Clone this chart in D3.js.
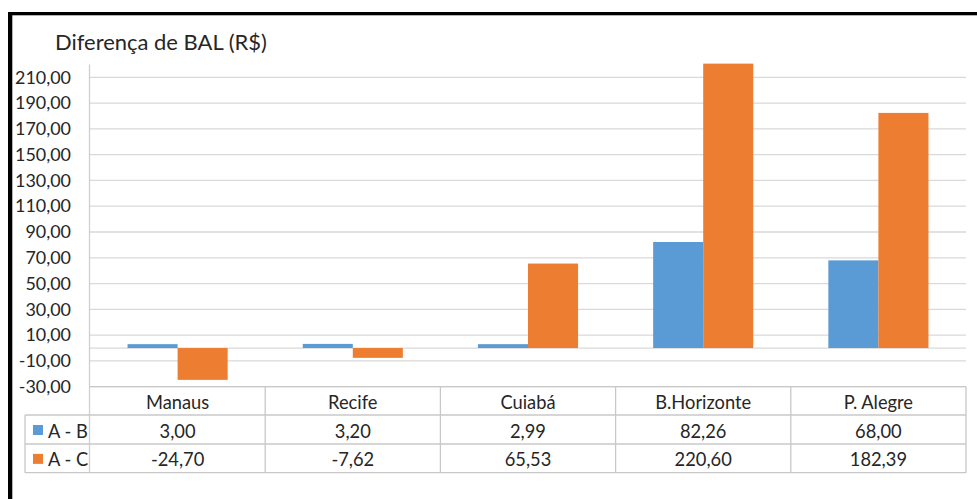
<!DOCTYPE html>
<html><head><meta charset="utf-8">
<script src="https://cdn.jsdelivr.net/npm/d3@7/dist/d3.min.js"></script>
<style>html,body{margin:0;padding:0;background:#fff;}svg{display:block;}</style>
</head><body>
<svg id="chart" width="977" height="499"></svg>
<script>
const title = "Diferença de BAL (R$)";
const categories = ["Manaus", "Recife", "Cuiabá", "B.Horizonte", "P. Alegre"];
const seriesNames = ["A - B", "A - C"];
const seriesAB = [3.00, 3.20, 2.99, 82.26, 68.00];
const seriesAC = [-24.70, -7.62, 65.53, 220.60, 182.39];
const tickValues = [210, 190, 170, 150, 130, 110, 90, 70, 50, 30, 10, -10, -30];
const seriesColors = ["#5B9BD5", "#ED7D31"];

const fmt = v => v.toFixed(2).replace(".", ",");
const svg = d3.select("#chart");
const FONT = "Lato, 'Open Sans', sans-serif";
const TXT = "#262626";

// frame (black border of the original picture)
svg.append("rect").attr("x", 8).attr("y", 12).attr("width", 969).attr("height", 3.3).attr("fill", "#000");
svg.append("rect").attr("x", 8).attr("y", 12).attr("width", 4.3).attr("height", 487).attr("fill", "#000");

const x0 = 90, x1 = 966;
const y = d3.scaleLinear().domain([-30, 220]).range([386.7, 386.7 - 250 * (309.4 / 240)]);
const xb = d3.scaleBand().domain(categories).range([x0, x1]).paddingInner(0).paddingOuter(0);
const bw = xb.bandwidth() / 3.5;
const xs = d3.scaleBand().domain(seriesNames).range([bw * 0.75, bw * 2.75]).padding(0);

// fit font-size to a target width
function fit(text, target, weight) {
  const t = svg.append("text").attr("font-family", FONT).attr("font-size", 100).attr("font-weight", weight || 400).text(text);
  const w = t.node().getComputedTextLength();
  t.remove();
  return 100 * target / w;
}
const titleSize = fit(title, 212);
const tickSize = fit("210,00", 56);
const tableSize = fit("B.Horizonte", 96);

// title
svg.append("text").attr("x", 55).attr("y", 50).attr("font-family", FONT).attr("font-size", titleSize)
  .attr("fill", TXT).text(title);

// gridlines
const grid = svg.append("g");
grid.selectAll("line").data(tickValues.concat([0])).join("line")
  .attr("x1", x0).attr("x2", x1).attr("y1", d => y(d)).attr("y2", d => y(d))
  .attr("stroke", "#D9D9D9").attr("stroke-width", 1.3);

// y axis via d3
const yAxis = d3.axisLeft(y).tickValues(tickValues).tickFormat(fmt).tickSize(0).tickPadding(19);
const ga = svg.append("g").attr("transform", `translate(${x0},0)`).call(yAxis);
ga.select(".domain").remove();
ga.selectAll("text").attr("font-family", FONT).attr("font-size", tickSize).attr("fill", TXT);
svg.append("line").attr("x1", x0 - 0.5).attr("x2", x0 - 0.5).attr("y1", y(220)).attr("y2", 472.7)
  .attr("stroke", "#D0D0D0").attr("stroke-width", 1.3);

// bars
const data = [seriesAB, seriesAC];
data.forEach((vals, si) => {
  svg.append("g").selectAll("rect").data(vals).join("rect")
    .attr("x", (d, i) => xb(categories[i]) + xs(seriesNames[si]))
    .attr("width", xs.bandwidth())
    .attr("y", d => y(Math.max(0, d)))
    .attr("height", d => Math.abs(y(d) - y(0)))
    .attr("fill", seriesColors[si]);
});

// data table
const rowY = [386.7, 415, 444, 472.7];
const tbl = svg.append("g").attr("stroke", "#C8C8C8").attr("stroke-width", 1.3);
tbl.append("line").attr("x1", x0).attr("x2", x1).attr("y1", rowY[0]).attr("y2", rowY[0]);
[1, 2, 3].forEach(r => tbl.append("line").attr("x1", 25).attr("x2", x1).attr("y1", rowY[r]).attr("y2", rowY[r]));
tbl.append("line").attr("x1", 25).attr("x2", 25).attr("y1", rowY[1]).attr("y2", rowY[3]);
categories.forEach((c, i) => {
  const xr = xb(c) + xb.bandwidth();
  tbl.append("line").attr("x1", xr).attr("x2", xr).attr("y1", rowY[0]).attr("y2", rowY[3]);
});

const tt = svg.append("g").attr("font-family", FONT).attr("font-size", tableSize).attr("fill", TXT)
  .attr("text-anchor", "middle").attr("dominant-baseline", "central");
tt.selectAll("text.cat").data(categories).join("text").attr("class", "cat")
  .attr("x", d => xb(d) + xb.bandwidth() / 2).attr("y", (rowY[0] + rowY[1]) / 2 + 1).text(d => d);
data.forEach((vals, si) => {
  tt.selectAll("text.v" + si).data(vals).join("text").attr("class", "v" + si)
    .attr("x", (d, i) => xb(categories[i]) + xb.bandwidth() / 2)
    .attr("y", (rowY[si + 1] + rowY[si + 2]) / 2 + 1).text(fmt);
  svg.append("rect").attr("x", 33).attr("y", (rowY[si + 1] + rowY[si + 2]) / 2 - 4.5)
    .attr("width", 10).attr("height", 10).attr("fill", seriesColors[si]);
  svg.append("text").attr("x", 48).attr("y", (rowY[si + 1] + rowY[si + 2]) / 2 + 1)
    .attr("dominant-baseline", "central").attr("font-family", FONT).attr("font-size", tableSize)
    .attr("fill", TXT).text(seriesNames[si]);
});
</script>
</body></html>
